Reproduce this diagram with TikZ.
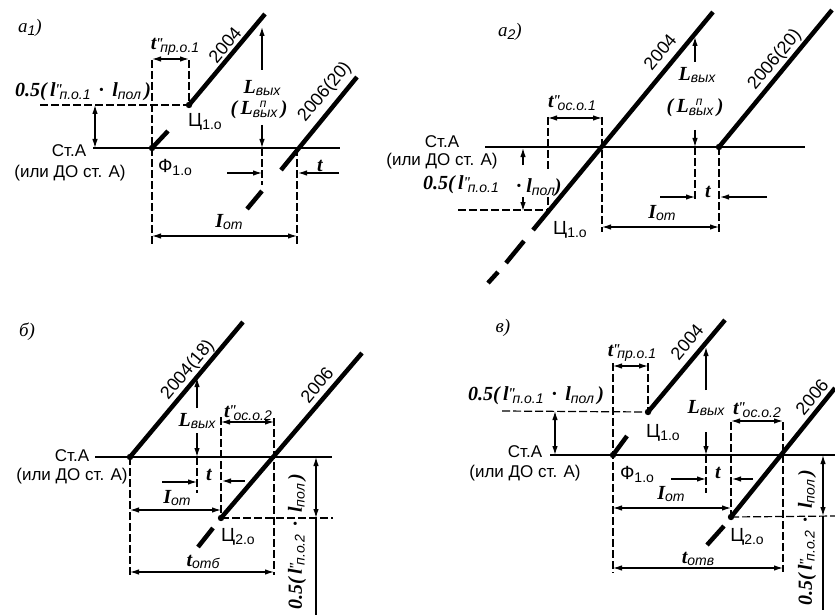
\documentclass[tikz,border=0pt]{standalone}
\usepackage{fontspec}
\setmainfont{Liberation Sans}
\newfontfamily\dimfont{Liberation Serif}
\usetikzlibrary{arrows.meta,positioning}
\newcommand{\subtext}[1]{\raisebox{-0.3ex}{\normalfont\fontsize{14}{15}\selectfont\itshape #1}}
\newcommand{\pointsub}[1]{\raisebox{-0.3ex}{\fontsize{14}{15}\selectfont #1}}
\newcommand{\dimsym}[2]{#1\rlap{\kern-0.05em\raisebox{0.2ex}{\fontsize{15}{15}\selectfont"}}\kern0.2em\subtext{#2}}
\newcommand{\lvyh}{\textit{L}\subtext{вых}}
\newcommand{\lpvyh}{\textit{L}\rlap{\raisebox{0.85ex}{\kern0.35em\normalfont\fontsize{12}{12}\selectfont\itshape п}}\subtext{вых}}
\newcommand{\iot}{\textit{I}\subtext{от}}
\newcommand{\halfgap}[1]{0.5(\,\dimsym{l}{п.о.#1}\ \,·\ \,\textit{l}\subtext{пол}\,)}
\begin{document}
\begin{tikzpicture}[x=1pt,y=-1pt,
  trackline/.style={line width=2.6pt},
  trainline/.style={line width=4.5pt},
  guideline/.style={dashed,dash pattern=on 8pt off 3pt,line width=1.2pt},
  plainline/.style={line width=1.2pt},
  dimarrow/.style={{Latex[length=9pt,width=5.5pt]}-{Latex[length=9pt,width=5.5pt]},
    line width=1.2pt},
  leadarrow/.style={-{Latex[length=9pt,width=5.5pt]},line width=1.2pt},
  stationlabel/.style={font=\fontsize{17}{18}\selectfont,inner sep=0pt},
  pointlabel/.style={font=\fontsize{19}{20}\selectfont,inner sep=0pt},
  numberlabel/.style={font=\fontsize{18}{19}\selectfont,inner sep=0pt,rotate=50},
  dimlabel/.style={font=\dimfont\itshape\bfseries\fontsize{20}{21}\selectfont,inner sep=0pt},
  panellabel/.style={font=\dimfont\itshape\fontsize{19}{20}\selectfont,inner sep=0pt}
]
  \useasboundingbox (0,0) rectangle (835,615);
  \fill[white] (0,0) rectangle (835,615);

  \node[panellabel] (panelaone) at (30,28) {a\subtext{1})};
  \coordinate (phione) at (152,148);
  \coordinate (tsone) at (189,105);
  \draw[trackline] (93,148) -- (340,148);
  \draw[trainline] (tsone) -- (265,14);
  \draw[trainline] (phione) -- (168,131);
  \draw[trainline] (247,209) -- (262,191);
  \draw[trainline] (281,170) -- (357,77);
  \fill (tsone) circle (3.2pt);
  \fill (phione) circle (3.2pt);
  \draw[guideline] (152,60) -- (phione) -- (152,245);
  \draw[guideline] (189,60) -- (tsone);
  \draw[guideline] (40,105) -- (tsone);
  \draw[guideline] (262,148) -- (262,185);
  \draw[guideline] (297,148) -- (297,245);
  \draw[dimarrow] (95,105) -- (95,148);
  \draw[dimarrow] (152,59) -- (189,59);
  \draw[leadarrow] (262,70) -- (262,27);
  \draw[leadarrow] (262,125) -- (262,148);
  \draw[leadarrow] (227,173) -- (262,173);
  \draw[leadarrow] (339,173) -- (298,173);
  \draw[dimarrow] (152,236) -- (297,236);
  \node[dimlabel] (tprone) at (175,47) {\dimsym{t}{пр.о.1}};
  \node[numberlabel] (numaone) at (225,45) {2004};
  \node[numberlabel] (numbone) at (325,92) {2006(20)};
  \node[dimlabel] (gapone) at (83,92) {\halfgap{1}};
  \node[pointlabel] (tsonelabel) at (205,122) {Ц\pointsub{1.о}};
  \node[dimlabel] (lone) at (262,88) {\lvyh};
  \node[dimlabel] (lpone) at (259,110) {(\,\lpvyh\,)};
  \node[stationlabel] (staone) at (69,151) {Ст.А};
  \node[stationlabel] (doone) at (70,173) {(или ДО ст. А)};
  \node[pointlabel] (phionelabel) at (175,167) {Ф\pointsub{1.о}};
  \node[dimlabel] (tone) at (320,166) {t};
  \node[dimlabel] (ione) at (229,222) {\iot};

  \node[panellabel] (panelatwo) at (510,32) {a\subtext{2})};
  \coordinate (crosstwo) at (602,147);
  \coordinate (starttwo) at (719,147);
  \draw[trackline] (485,147) -- (805,147);
  \draw[trainline] (533,230) -- (713,12);
  \draw[trainline] (506,263) -- (524,241);
  \draw[trainline] (488,283) -- (498,272);
  \draw[trainline] (starttwo) -- (832,10);
  \fill (starttwo) circle (3.2pt);
  \draw[guideline] (548,117) -- (548,170);
  \draw[guideline] (548,197) -- (548,210);
  \draw[guideline] (602,117) -- (crosstwo) -- (602,232);
  \draw[guideline] (458,210) -- (548,210);
  \draw[guideline] (695,147) -- (695,200);
  \draw[guideline] (starttwo) -- (719,232);
  \draw[dimarrow] (548,118) -- (602,118);
  \draw[leadarrow] (523,165) -- (523,148);
  \draw[leadarrow] (523,197) -- (523,211);
  \draw[leadarrow] (695,62) -- (695,37);
  \draw[leadarrow] (695,130) -- (695,147);
  \draw[leadarrow] (660,197) -- (695,197);
  \draw[leadarrow] (767,197) -- (720,197);
  \draw[dimarrow] (602,227) -- (719,227);
  \node[numberlabel] (numatwo) at (660,52) {2004};
  \node[numberlabel] (numbtwo) at (775,60) {2006(20)};
  \node[dimlabel] (tostwo) at (572,103) {\dimsym{t}{ос.о.1}};
  \node[dimlabel] (ltwo) at (697,75) {\lvyh};
  \node[dimlabel] (lptwo) at (695,108) {(\,\lpvyh\,)};
  \node[stationlabel] (statwo) at (442,142) {Ст.А};
  \node[stationlabel] (dotwo) at (442,161) {(или ДО ст. А)};
  \node[dimlabel] (gaptwoa) at (461,185) {0.5(\,\dimsym{l}{п.о.1}};
  \node[dimlabel] (gaptwob) at (539,188) {· \textit{l}\subtext{пол})};
  \node[pointlabel] (tstwolabel) at (570,230) {Ц\pointsub{1.о}};
  \node[dimlabel] (ttwo) at (708,192) {t};
  \node[dimlabel] (itwo) at (662,213) {\iot};

  \node[panellabel] (panelb) at (27,332) {б)};
  \coordinate (startb) at (130,457);
  \coordinate (tsb) at (221,518);
  \draw[trackline] (95,457) -- (332,457);
  \draw[trainline] (startb) -- (243,322);
  \draw[trainline] (tsb) -- (362,353);
  \draw[trainline] (198,547) -- (213,528);
  \fill (startb) circle (3.2pt);
  \fill (tsb) circle (3.2pt);
  \draw[guideline] (startb) -- (130,575);
  \draw[guideline] (221,417) -- (tsb);
  \draw[guideline] (274,418) -- (274,575);
  \draw[guideline] (197,457) -- (197,493);
  \draw[guideline] (tsb) -- (333,518);
  \draw[leadarrow] (197,408) -- (197,378);
  \draw[leadarrow] (197,433) -- (197,457);
  \draw[leadarrow] (162,482) -- (197,482);
  \draw[leadarrow] (245,481) -- (222,481);
  \draw[dimarrow] (130,510) -- (221,510);
  \draw[dimarrow] (130,572) -- (274,572);
  \draw[dimarrow] (221,422) -- (274,422);
  \draw[dimarrow] (316,457) -- (316,518);
  \draw[plainline] (316,518) -- (316,615);
  \node[numberlabel] (numab) at (188,370) {2004(18)};
  \node[numberlabel] (numbb) at (317,385) {2006};
  \node[dimlabel] (lb) at (197,421) {\lvyh};
  \node[dimlabel] (tosb) at (248,413) {\dimsym{t}{ос.о.2}};
  \node[stationlabel] (stab) at (72,456) {Ст.А};
  \node[stationlabel] (dob) at (72,476) {(или ДО ст. А)};
  \node[dimlabel] (tb) at (209,475) {t};
  \node[dimlabel] (ib) at (177,498) {\iot};
  \node[pointlabel] (tsblabel) at (238,537) {Ц\pointsub{2.о}};
  \node[dimlabel] (totb) at (203,562) {\textit{t}\subtext{отб}};
  \node[dimlabel,rotate=90] (gapb) at (297,542) {\halfgap{2}};

  \node[panellabel] (panelv) at (503,328) {в)};
  \coordinate (phiv) at (613,455);
  \coordinate (tsva) at (648,412);
  \coordinate (tsvb) at (731,517);
  \draw[trackline] (550,455) -- (835,455);
  \draw[trainline] (tsva) -- (725,320);
  \draw[trainline] (phiv) -- (627,436);
  \draw[trainline] (tsvb) -- (835,388);
  \draw[trainline] (707,545) -- (724,526);
  \fill (phiv) circle (3.2pt);
  \fill (tsva) circle (3.2pt);
  \fill (tsvb) circle (3.2pt);
  \draw[guideline] (613,363) -- (613,573);
  \draw[guideline] (648,363) -- (tsva);
  \draw[guideline] (502,411) -- (tsva);
  \draw[guideline] (706,455) -- (706,493);
  \draw[guideline] (731,422) -- (tsvb);
  \draw[guideline] (783,422) -- (783,572);
  \draw[guideline] (tsvb) -- (835,516);
  \draw[dimarrow] (555,411) -- (555,455);
  \draw[dimarrow] (613,366) -- (648,366);
  \draw[dimarrow] (731,421) -- (783,421);
  \draw[leadarrow] (706,390) -- (706,347);
  \draw[leadarrow] (706,432) -- (706,455);
  \draw[leadarrow] (671,479) -- (706,479);
  \draw[leadarrow] (753,479) -- (732,479);
  \draw[dimarrow] (613,508) -- (731,508);
  \draw[dimarrow] (613,568) -- (783,568);
  \draw[dimarrow] (823,455) -- (823,516);
  \draw[plainline] (823,516) -- (823,610);
  \node[dimlabel] (tprv) at (632,353) {\dimsym{t}{пр.о.1}};
  \node[numberlabel] (numav) at (687,342) {2004};
  \node[numberlabel] (numbv) at (812,397) {2006};
  \node[dimlabel] (gapv) at (536,396) {\halfgap{1}};
  \node[dimlabel] (lv) at (706,408) {\lvyh};
  \node[dimlabel] (tosv) at (757,410) {\dimsym{t}{ос.о.2}};
  \node[pointlabel] (tsvalabel) at (663,433) {Ц\pointsub{1.о}};
  \node[stationlabel] (stav) at (525,452) {Ст.А};
  \node[stationlabel] (dov) at (525,473) {(или ДО ст. А)};
  \node[pointlabel] (phivlabel) at (637,474) {Ф\pointsub{1.о}};
  \node[dimlabel] (tv) at (718,473) {t};
  \node[dimlabel] (iv) at (671,494) {\iot};
  \node[pointlabel] (tsvblabel) at (747,537) {Ц\pointsub{2.о}};
  \node[dimlabel] (totv) at (698,559) {\textit{t}\subtext{отв}};
  \node[dimlabel,rotate=90] (gapvb) at (807,538) {\halfgap{2}};
\end{tikzpicture}
\end{document}
